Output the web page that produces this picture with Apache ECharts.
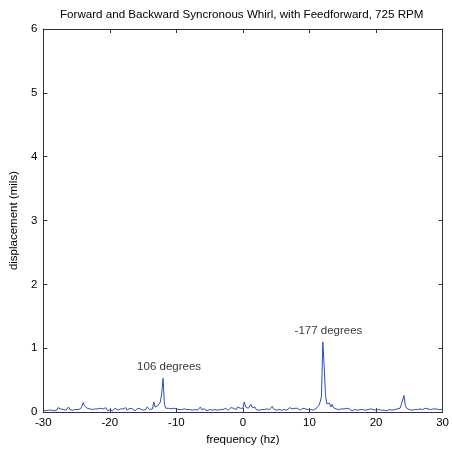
<!DOCTYPE html>
<html><head><meta charset="utf-8">
<script src="https://cdn.jsdelivr.net/npm/echarts@6/dist/echarts.min.js"></script>
<style>html,body{margin:0;padding:0;background:#fff}#c{width:452px;height:451px}</style>
</head><body><div id="c"></div>
<script>
// Frequency grid (Hz)
const freqStart = -30;
const freqStep = 0.2;
// Displacement (mils) per frequency bin, rows of 1 Hz (5 bins each)
const displacement = [
  0.03,0.05,0.02,0.04,0.03, // -30
  0.05,0.03,0.06,0.02,0.04, // -29
  0.03,0.07,0.04,0.05,0.02, // -28
  0.04,0.06,0.03,0.05,0.08, // -27
  0.04,0.06,0.03,0.05,0.04, // -26
  0.06,0.04,0.07,0.05,0.09, // -25
  0.15,0.10,0.12,0.06,0.09, // -24
  0.05,0.08,0.04,0.06,0.05, // -23
  0.03,0.05,0.04,0.06,0.03, // -22
  0.05,0.04,0.07,0.03,0.05, // -21
  0.03,0.05,0.02,0.04,0.06, // -20
  0.04,0.03,0.06,0.05,0.03, // -19
  0.05,0.04,0.07,0.03,0.05, // -18
  0.06,0.03,0.05,0.04,0.02, // -17
  0.04,0.06,0.03,0.05,0.04, // -16
  0.03,0.06,0.04,0.08,0.05, // -15
  0.04,0.07,0.05,0.16,0.08, // -14
  0.06,0.10,0.12,0.16,0.30, // -13
  0.53,0.12,0.06,0.04,0.06, // -12
  0.03,0.05,0.04,0.06,0.03, // -11
  0.05,0.03,0.04,0.06,0.04, // -10
  0.03,0.05,0.02,0.04,0.06, // -9
  0.04,0.07,0.03,0.05,0.04, // -8
  0.06,0.03,0.05,0.08,0.04, // -7
  0.03,0.05,0.04,0.02,0.05, // -6
  0.04,0.06,0.03,0.05,0.04, // -5
  0.06,0.03,0.05,0.04,0.07, // -4
  0.04,0.03,0.06,0.05,0.03, // -3
  0.05,0.07,0.04,0.06,0.03, // -2
  0.04,0.08,0.05,0.06,0.04, // -1
  0.06,0.16,0.08,0.11,0.06, // 0
  0.05,0.12,0.07,0.05,0.08, // 1
  0.04,0.06,0.03,0.05,0.04, // 2
  0.06,0.04,0.03,0.05,0.07, // 3
  0.04,0.06,0.09,0.05,0.04, // 4
  0.03,0.05,0.04,0.06,0.03, // 5
  0.05,0.04,0.06,0.03,0.05, // 6
  0.07,0.04,0.05,0.03,0.06, // 7
  0.04,0.06,0.05,0.03,0.04, // 8
  0.06,0.04,0.05,0.07,0.04, // 9
  0.05,0.04,0.06,0.03,0.05, // 10
  0.06,0.08,0.10,0.16,0.25, // 11
  1.10,0.72,0.28,0.13,0.10, // 12
  0.14,0.08,0.12,0.07,0.10, // 13
  0.05,0.07,0.04,0.06,0.05, // 14
  0.03,0.05,0.04,0.06,0.03, // 15
  0.05,0.04,0.02,0.05,0.04, // 16
  0.06,0.03,0.05,0.04,0.06, // 17
  0.04,0.05,0.03,0.06,0.04, // 18
  0.07,0.05,0.06,0.04,0.05, // 19
  0.03,0.05,0.04,0.06,0.03, // 20
  0.05,0.03,0.04,0.02,0.05, // 21
  0.04,0.06,0.03,0.05,0.04, // 22
  0.03,0.05,0.04,0.06,0.12, // 23
  0.14,0.26,0.10,0.06,0.08, // 24
  0.04,0.06,0.03,0.05,0.04, // 25
  0.02,0.04,0.03,0.05,0.02, // 26
  0.04,0.03,0.06,0.03,0.05, // 27
  0.02,0.04,0.03,0.05,0.03, // 28
  0.05,0.03,0.04,0.06,0.04, // 29
  0.05                      // 30
];
// Annotations
const annotationText = ['106 degrees', '-177 degrees'];
const annotationX = [-11.1, 12.85];
const annotationY = [0.71, 1.28];
// Axis ticks
const xTicks = [-30, -20, -10, 0, 10, 20, 30];
const yTicks = [0, 1, 2, 3, 4, 5, 6];

const seriesData = displacement.map((v, i) => [freqStart + i * freqStep, v]);
const annData = annotationText.map((t, i) => ({ value: [annotationX[i], annotationY[i]], name: t }));

const font = 'Liberation Sans, Arial, sans-serif';
const axisColor = '#333';
const chart = echarts.init(document.getElementById('c'), null, { renderer: 'canvas' });
const baseX = {
  type: 'value', min: xTicks[0], max: xTicks[xTicks.length - 1], interval: 10,
  axisLine: { show: true, onZero: false, lineStyle: { color: axisColor, width: 1 } },
  axisTick: { show: true, inside: true, length: 4, lineStyle: { color: axisColor } },
  splitLine: { show: false }
};
const baseY = {
  type: 'value', min: yTicks[0], max: yTicks[yTicks.length - 1], interval: 1,
  axisLine: { show: true, onZero: false, lineStyle: { color: axisColor, width: 1 } },
  axisTick: { show: true, inside: true, length: 4, lineStyle: { color: axisColor } },
  splitLine: { show: false }
};
chart.setOption({
  animation: false,
  backgroundColor: '#fff',
  title: {
    text: 'Forward and Backward Syncronous Whirl, with Feedforward, 725 RPM',
    left: 55, top: 4,
    textStyle: { fontFamily: font, fontSize: 11.6, fontWeight: 'normal', color: '#000' }
  },
  grid: { left: 40, right: 6, top: 29, bottom: 33 },
  xAxis: [
    Object.assign({}, baseX, {
      position: 'bottom',
      name: 'frequency (hz)', nameLocation: 'middle', nameGap: 19,
      nameTextStyle: { fontFamily: font, fontSize: 11.5, color: '#000' },
      axisLabel: { show: true, fontFamily: font, fontSize: 11.5, color: '#000', margin: 5 }
    }),
    Object.assign({}, baseX, { position: 'top', axisLabel: { show: false } })
  ],
  yAxis: [
    Object.assign({}, baseY, {
      position: 'left',
      name: 'displacement (mils)', nameLocation: 'middle', nameGap: 19,
      nameTextStyle: { fontFamily: font, fontSize: 11.5, color: '#000' },
      axisLabel: { show: true, fontFamily: font, fontSize: 11.5, color: '#000', margin: 6 }
    }),
    Object.assign({}, baseY, { position: 'right', axisLabel: { show: false } })
  ],
  series: [
    {
      type: 'line', data: seriesData, xAxisIndex: 0, yAxisIndex: 0,
      showSymbol: false, symbol: 'none',
      lineStyle: { color: '#2a4cc4', width: 1 }
    },
    {
      type: 'scatter', data: annData, symbolSize: 0, xAxisIndex: 0, yAxisIndex: 0,
      label: {
        show: true, position: 'inside', formatter: p => p.name,
        fontFamily: font, fontSize: 11.5, color: '#000'
      }
    }
  ]
});
</script>
</body></html>
